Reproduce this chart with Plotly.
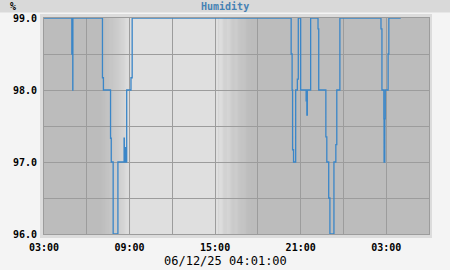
import plotly.graph_objects as go
import pandas as pd

# ---- data ----
times = [
    "2025-06-11 03:00:00", "2025-06-11 04:57:00", "2025-06-11 05:01:00", "2025-06-11 05:01:30",
    "2025-06-11 07:06:00", "2025-06-11 07:10:00", "2025-06-11 07:40:00", "2025-06-11 07:43:00",
    "2025-06-11 07:51:00", "2025-06-11 08:11:00", "2025-06-11 08:37:00", "2025-06-11 08:38:00",
    "2025-06-11 08:42:00", "2025-06-11 08:45:00", "2025-06-11 08:48:00", "2025-06-11 09:06:00",
    "2025-06-11 09:11:00",
    "2025-06-11 20:20:00", "2025-06-11 20:24:00", "2025-06-11 20:26:00", "2025-06-11 20:30:00",
    "2025-06-11 20:39:00", "2025-06-11 20:46:00", "2025-06-11 20:50:00", "2025-06-11 21:00:00",
    "2025-06-11 21:23:00", "2025-06-11 21:26:00", "2025-06-11 21:28:00", "2025-06-11 21:42:00",
    "2025-06-11 22:13:00", "2025-06-11 22:16:00", "2025-06-11 22:46:00", "2025-06-11 22:50:00",
    "2025-06-11 22:58:00", "2025-06-11 23:03:00", "2025-06-11 23:20:00", "2025-06-11 23:28:00",
    "2025-06-11 23:32:00", "2025-06-11 23:45:00",
    "2025-06-12 02:38:00", "2025-06-12 02:42:00", "2025-06-12 02:50:00", "2025-06-12 02:51:00",
    "2025-06-12 02:54:00", "2025-06-12 02:56:00", "2025-06-12 03:08:00", "2025-06-12 03:11:00",
    "2025-06-12 04:01:00",
]
humidity = [
    99.0, 98.5, 98.0, 99.0,
    98.17, 98.0, 97.33, 97.0,
    96.0, 97.0, 97.33, 97.0,
    97.2, 97.0, 98.0, 98.17,
    99.0,
    98.5, 98.0, 97.17, 97.0,
    98.0, 98.15, 99.0, 98.0,
    97.85, 97.65, 98.0, 99.0,
    98.85, 98.0, 97.35, 97.0,
    96.5, 96.0, 97.0, 97.24,
    98.0, 99.0,
    98.85, 98.0, 97.6, 97.0,
    97.6, 98.0, 98.5, 99.0,
    99.0,
]

x_ticks = ["2025-06-11 03:00", "2025-06-11 06:00", "2025-06-11 09:00", "2025-06-11 12:00",
           "2025-06-11 15:00", "2025-06-11 18:00", "2025-06-11 21:00", "2025-06-12 00:00",
           "2025-06-12 03:00", "2025-06-12 06:00"]
x_ticktext = ["03:00", "", "09:00", "", "15:00", "", "21:00", "", "03:00", ""]
y_ticks = [96.0, 96.5, 97.0, 97.5, 98.0, 98.5, 99.0]
y_ticktext = ["96.0", "", "97.0", "", "98.0", "", "99.0"]

x_range = ["2025-06-11 03:00", "2025-06-12 06:00"]
y_range = [96.0, 99.0]

# daylight shading (gradient transitions)
dawn = ["2025-06-11 07:00", "2025-06-11 09:02"]
dusk = ["2025-06-11 15:15", "2025-06-11 17:30"]

title_text = "Humidity"
unit_text = "%"
date_text = "06/12/25 04:01:00"

NIGHT = (188, 188, 188)
DAY = (223, 223, 223)


def rgb(c):
    return "rgb(%d,%d,%d)" % tuple(int(round(v)) for v in c)


def mix(a, b, f):
    return tuple(a[i] + (b[i] - a[i]) * f for i in range(3))


shapes = []
# full daylight block
shapes.append(dict(type="rect", xref="x", yref="paper", x0=dawn[1], x1=dusk[0], y0=0, y1=1,
                   fillcolor=rgb(DAY), line_width=0, layer="below"))
N = 28
for (t0, t1, c0, c1) in [(dawn[0], dawn[1], NIGHT, DAY), (dusk[0], dusk[1], DAY, NIGHT)]:
    a, b = pd.Timestamp(t0), pd.Timestamp(t1)
    step = (b - a) / N
    for i in range(N):
        s0 = a + step * i
        s1 = a + step * (i + 1) + pd.Timedelta(seconds=30)
        shapes.append(dict(type="rect", xref="x", yref="paper", x0=s0, x1=s1, y0=0, y1=1,
                           fillcolor=rgb(mix(c0, c1, (i + 0.5) / N)), line_width=0, layer="below"))

W, H = 450, 270
L, R, T, B = 44, 21, 18, 36
PW, PH = W - L - R, H - T - B
FR = "#dcdcdc"
fx0, fx1 = -4 / PW, 1 + 3 / PW
fy0, fy1 = -4 / PH, 1 + 4 / PH
# frame strips around plot area
shapes += [
    dict(type="rect", xref="paper", yref="paper", x0=fx0, x1=0, y0=fy0, y1=fy1, fillcolor=FR, line_width=0, layer="below"),
    dict(type="rect", xref="paper", yref="paper", x0=1, x1=fx1, y0=fy0, y1=fy1, fillcolor=FR, line_width=0, layer="below"),
    dict(type="rect", xref="paper", yref="paper", x0=0, x1=1, y0=1, y1=fy1, fillcolor=FR, line_width=0, layer="below"),
    dict(type="rect", xref="paper", yref="paper", x0=0, x1=1, y0=fy0, y1=0, fillcolor=FR, line_width=0, layer="below"),
]
# title bar
shapes.append(dict(type="rect", xref="paper", yref="paper", x0=-L / PW, x1=1 + R / PW,
                   y0=1 + (T - 12.5) / PH, y1=1 + T / PH, fillcolor="#d9d9d9", line_width=0, layer="below"))

fig = go.Figure()
fig.add_trace(go.Scatter(x=times, y=humidity, mode="lines", line_shape="hv",
                         line=dict(color="#3a86c8", width=1.3), hoverinfo="skip"))

mono_b = dict(family="DejaVu Sans Mono", size=10, color="#000000", weight="bold")

fig.update_layout(
    width=W, height=H,
    margin=dict(l=L, r=R, t=T, b=B, pad=0),
    paper_bgcolor="#f4f4f4",
    plot_bgcolor=rgb(NIGHT),
    showlegend=False,
    shapes=shapes,
    xaxis=dict(range=x_range, type="date", tickmode="array", tickvals=x_ticks, ticktext=x_ticktext,
               showgrid=True, gridcolor="#9c9c9c", gridwidth=1, zeroline=False,
               showline=True, linecolor="#9c9c9c", linewidth=1, mirror=True,
               ticks="outside", ticklen=4, tickcolor="rgba(0,0,0,0)",
               tickfont=mono_b, fixedrange=True),
    yaxis=dict(range=y_range, tickmode="array", tickvals=y_ticks, ticktext=y_ticktext,
               showgrid=True, gridcolor="#9c9c9c", gridwidth=1, zeroline=False,
               showline=True, linecolor="#9c9c9c", linewidth=1, mirror=True,
               ticks="outside", ticklen=4, tickcolor="rgba(0,0,0,0)",
               tickfont=mono_b, fixedrange=True),
    annotations=[
        dict(text=title_text, xref="paper", yref="paper", x=(225 - L) / PW, y=1 + (T - 6.5) / PH,
             xanchor="center", yanchor="middle", showarrow=False,
             font=dict(family="DejaVu Sans Mono", size=10, color="#4682b4", weight="bold")),
        dict(text=unit_text, xref="paper", yref="paper", x=(13 - L) / PW, y=1 + (T - 6.5) / PH,
             xanchor="center", yanchor="middle", showarrow=False, font=mono_b),
        dict(text=date_text, xref="paper", yref="paper", x=(225.5 - L) / PW, y=-(261 - (T + PH)) / PH,
             xanchor="center", yanchor="middle", showarrow=False,
             font=dict(family="DejaVu Sans Mono", size=12, color="#000000")),
    ],
)

fig.write_html("out.html", config={"displayModeBar": False})
